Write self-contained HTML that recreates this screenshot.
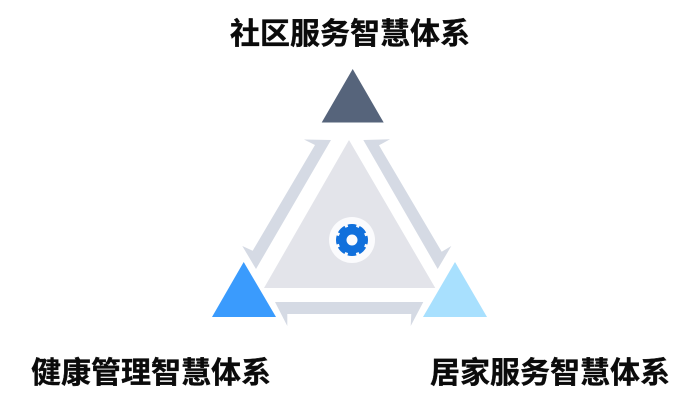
<!DOCTYPE html>
<html lang="zh">
<head>
<meta charset="utf-8">
<style>
html,body{margin:0;padding:0;background:#fff}
body{width:692px;height:407px;overflow:hidden;position:relative}
svg{position:absolute;left:0;top:0}
text{font-family:"Liberation Sans","Noto Sans CJK SC",sans-serif;font-weight:700;font-size:30px;fill:#0b0b0b;stroke:#0b0b0b;stroke-width:.35px}
</style>
</head>
<body>
<svg width="692" height="407" viewBox="0 0 692 407" xmlns="http://www.w3.org/2000/svg">
<rect width="692" height="407" fill="#fff"/>
<polygon points="352.7,69 321.7,122.5 383.7,122.5" fill="#56647b"/>
<polygon points="349,140 264,288 435.3,288" fill="#e3e4ea"/>
<polygon points="331,140 304,139.5 315,145 252.7,250.7 242.3,246 256,269" fill="#d5dae4"/>
<polygon points="363.3,140 390,139.3 379,145.3 441.7,251.7 451.3,246 437.7,269" fill="#d5dae4"/>
<polygon points="275,302 423.3,302 410.7,326 411.3,314 287.3,314 287.3,326" fill="#d5dae4"/>
<polygon points="243.7,262 212,317 276,317" fill="#3a9bfd"/>
<polygon points="455,262 423,317 487,317" fill="#a8e0fe"/>
<circle cx="352" cy="240" r="23" fill="#fbfbfd"/>
<circle cx="352" cy="240" r="9.6" fill="none" stroke="#1170dc" stroke-width="8.2"/>
<circle cx="352" cy="240" r="14.2" fill="none" stroke="#1170dc" stroke-width="3.6" stroke-dasharray="8.2 2.95" stroke-dashoffset="4.1"/>
<text x="230" y="44">社区服务智慧体系</text>
<text x="31" y="383">健康管理智慧体系</text>
<text x="430" y="383">居家服务智慧体系</text>
</svg>
</body>
</html>
